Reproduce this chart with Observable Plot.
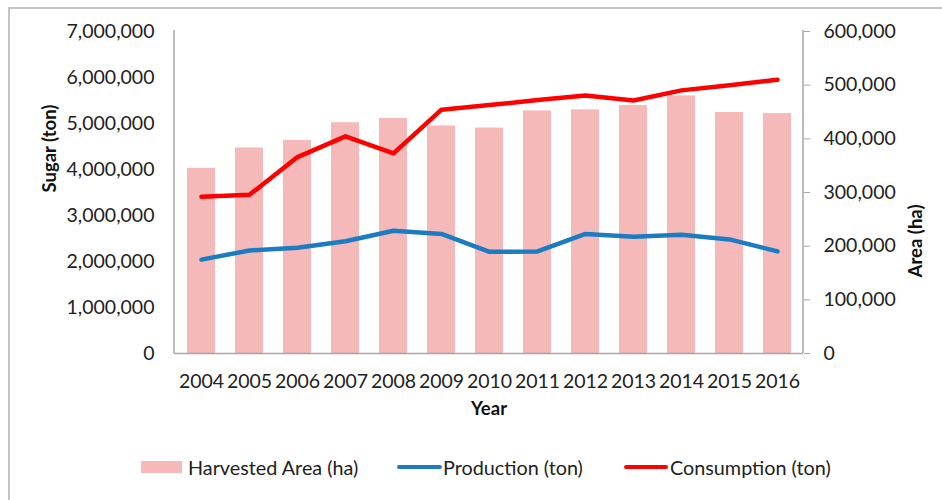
<!DOCTYPE html>
<html>
<head>
<meta charset="utf-8">
<script src="https://cdn.jsdelivr.net/npm/d3@7"></script>
<script src="https://cdn.jsdelivr.net/npm/@observablehq/plot@0.6"></script>
<style>
  html, body { margin: 0; padding: 0; background: #fff; }
  #wrap { position: relative; width: 942px; height: 500px; overflow: hidden; font-family: Lato, "Open Sans", sans-serif; color: #222; }
  #border { position: absolute; left: 8px; top: 7px; width: 960px; height: 520px; border-top: 2px solid #c4c4c4; border-left: 2px solid #c4c4c4; box-sizing: border-box; }
  #chart { position: absolute; left: 0; top: 0; }
  .lg { position: absolute; font-size: 19.8px; line-height: 20px; white-space: nowrap; }
</style>
</head>
<body>
<div id="wrap">
  <div id="border"></div>
  <div id="chart"></div>
  <div class="lg" style="left:141px; top:461px; width:41px; height:12px; background:#F4B9B8;"></div>
  <div class="lg" style="left:188px; top:457px;">Harvested Area (ha)</div>
  <div class="lg" style="left:397px; top:465px; width:45px; height:4px; background:#1B7CC1; border-radius:2px;"></div>
  <div class="lg" style="left:443px; top:457px;">Production (ton)</div>
  <div class="lg" style="left:624px; top:465px; width:44px; height:4px; background:#FF0000; border-radius:2px;"></div>
  <div class="lg" style="left:670px; top:457px;">Consumption (ton)</div>
</div>
<script>
const years = ["2004","2005","2006","2007","2008","2009","2010","2011","2012","2013","2014","2015","2016"];
const harvestedArea = [345000, 383000, 397000, 430000, 438000, 424000, 420000, 452000, 454000, 462000, 480000, 449000, 447000];
const production = [2040000, 2240000, 2300000, 2440000, 2670000, 2600000, 2210000, 2220000, 2600000, 2540000, 2580000, 2480000, 2220000];
const consumption = [3410000, 3450000, 4270000, 4720000, 4350000, 5300000, 5400000, 5510000, 5610000, 5500000, 5720000, 5830000, 5950000];
const leftTicks = [0, 1000000, 2000000, 3000000, 4000000, 5000000, 6000000, 7000000];
const rightTicks = [0, 100000, 200000, 300000, 400000, 500000, 600000];

const leftMax = 7000000, rightMax = 600000;
const k = leftMax / rightMax;
const fmt = d3.format(",");

const bars = years.map((y, i) => ({year: y, v: harvestedArea[i] * k}));
const prod = years.map((y, i) => ({year: y, v: production[i]}));
const cons = years.map((y, i) => ({year: y, v: consumption[i]}));

const plot = Plot.plot({
  width: 942,
  height: 440,
  marginLeft: 174,
  marginRight: 139,
  marginTop: 31,
  marginBottom: 87,
  style: {fontFamily: "Lato, 'Open Sans', sans-serif", fontSize: "19.5px", color: "#222", background: "transparent", overflow: "visible"},
  x: {domain: years, paddingInner: 0.42, paddingOuter: 0.21, axis: null},
  y: {domain: [0, leftMax], axis: null},
  marks: [
    Plot.barY(bars, {x: "year", y: "v", fill: "#F4B9B8"}),
    Plot.ruleY([0], {stroke: "#a6a6a6", strokeWidth: 1.5}),
    Plot.line(prod, {x: "year", y: "v", stroke: "#1B7CC1", strokeWidth: 4.5, strokeLinecap: "round", strokeLinejoin: "round"}),
    Plot.line(cons, {x: "year", y: "v", stroke: "#FF0000", strokeWidth: 4.5, strokeLinecap: "round", strokeLinejoin: "round"}),
    Plot.axisX({tickSize: 0, tickPadding: 21, label: null, fill: "#222"}),
    Plot.axisY(leftTicks, {anchor: "left", tickSize: 0, tickPadding: 20, tickFormat: fmt, label: null, fill: "#222"}),
    Plot.axisY(rightTicks.map(v => v * k), {anchor: "right", tickSize: 6, tickPadding: 14, stroke: "#a6a6a6", fill: "#222", tickFormat: d => fmt(Math.round(d / k)), label: null}),
    Plot.text(["Sugar (ton)"], {frameAnchor: "left", dx: -124, rotate: -90, fontWeight: "bold", fontSize: 18.5, fill: "#111"}),
    Plot.text(["Area (ha)"], {frameAnchor: "right", dx: 113, dy: 12, rotate: -90, fontWeight: "bold", fontSize: 18.5, fill: "#111"}),
    Plot.text(["Year"], {frameAnchor: "bottom", dy: 61, fontWeight: "bold", fontSize: 18.5, fill: "#111"})
  ]
});
document.getElementById("chart").appendChild(plot);

// vertical axis lines drawn from Plot's own scales
const xs = plot.scale("x").range, ys = plot.scale("y").range;
const svg = d3.select(plot);
[xs[0], xs[1]].forEach(xp => {
  svg.append("line")
    .attr("x1", xp).attr("x2", xp)
    .attr("y1", ys[1] - 1).attr("y2", ys[0])
    .attr("stroke", "#a6a6a6").attr("stroke-width", 1.5);
});
</script>
</body>
</html>
